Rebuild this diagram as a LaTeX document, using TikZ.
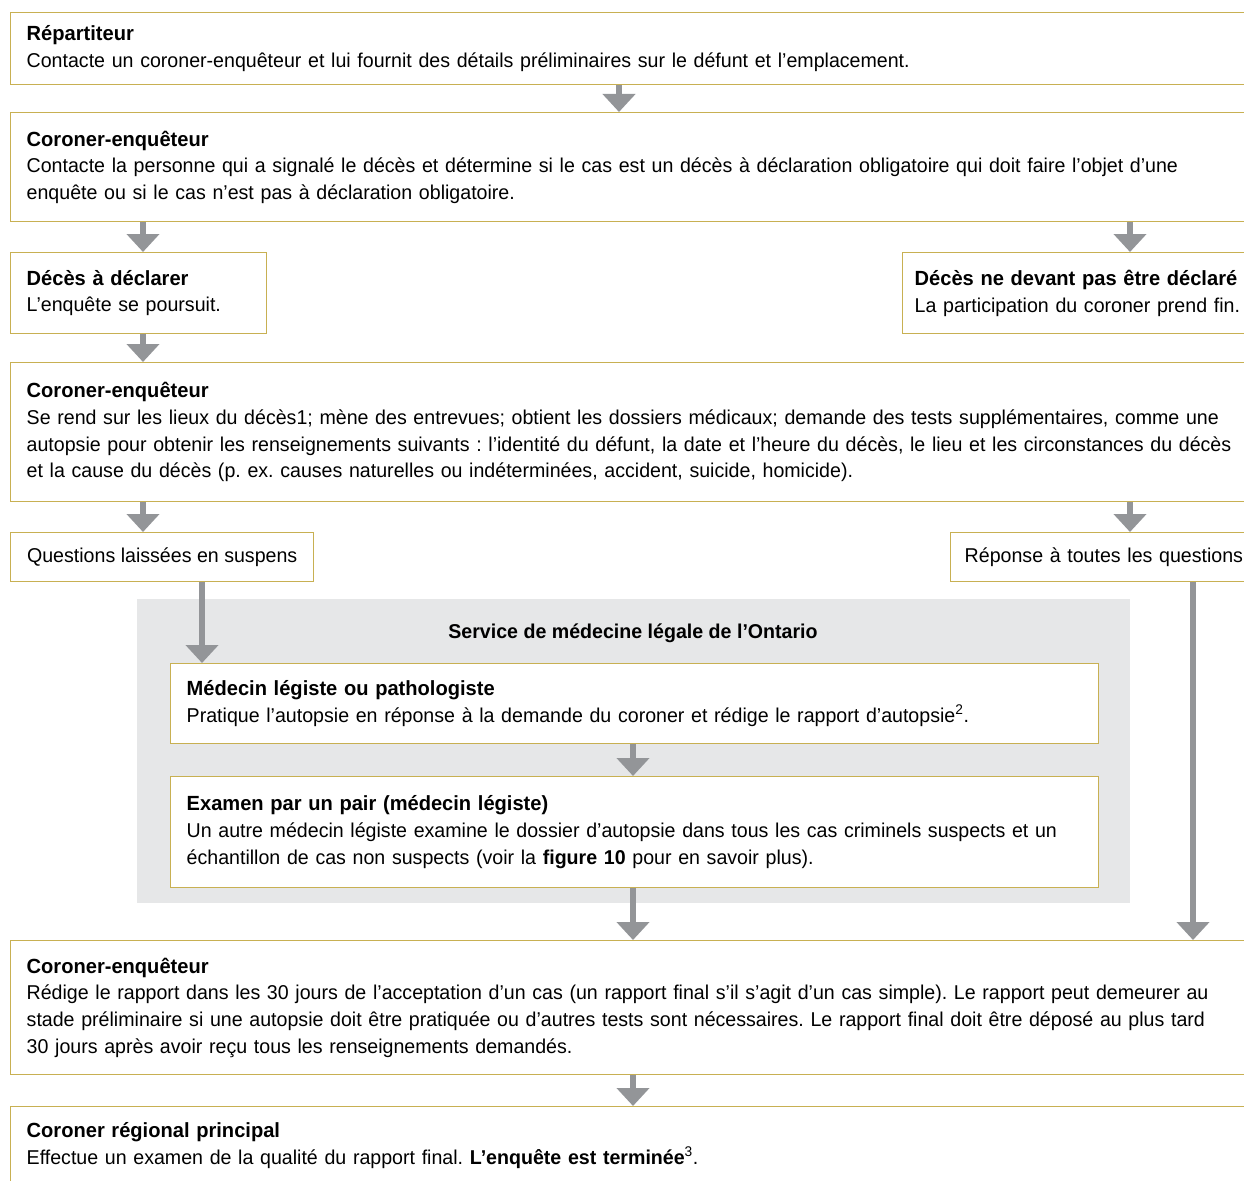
\documentclass[tikz,border=0pt]{standalone}
\usepackage{fontspec}
\setmainfont{Liberation Sans}[FakeStretch=0.98]
\usepackage{xcolor}
\usetikzlibrary{arrows.meta,positioning}

\definecolor{goldline}{RGB}{200,176,82}
\definecolor{panelgrey}{RGB}{230,231,232}
\definecolor{arrowgrey}{RGB}{147,149,152}

\newcommand{\boxhead}[1]{{\bfseries\fontsize{20.5}{27}\selectfont #1}}
\frenchspacing

\begin{document}
\begin{tikzpicture}[x=1pt,y=-1pt,
  stage/.style={draw=goldline,line width=1.4pt,fill=white,anchor=north west,
    align=left,inner xsep=16pt,inner ysep=0pt,
    font=\fontsize{20}{26.7}\selectfont},
  flow/.style={arrowgrey,line width=6pt,-{Triangle[width=32pt,length=18pt]}}]
  \useasboundingbox (0,0) rectangle (1244,1180);
  \clip (0,0) rectangle (1244,1180);

  \coordinate (colM) at (619,0);
  \coordinate (colC) at (633,0);
  \coordinate (colL) at (143,0);
  \coordinate (colR) at (1130,0);
  \coordinate (colQ) at (202,0);
  \coordinate (colA) at (1193,0);

  \node[stage,text width=1230pt,minimum height=72pt] (rep) at (10,12)
    {\boxhead{Répartiteur}\\
     Contacte un coroner-enquêteur et lui fournit des détails préliminaires sur le défunt et l’emplacement.};
  \node[stage,text width=1230pt,minimum height=109pt] (cor1) at (10,112)
    {\boxhead{Coroner-enquêteur}\\
     Contacte la personne qui a signalé le décès et détermine si le cas est un décès à déclaration obligatoire qui doit faire l’objet d’une\\
     enquête ou si le cas n’est pas à déclaration obligatoire.};
  \node[stage,text width=224pt,minimum height=81pt] (decl) at (10,252)
    {\boxhead{Décès à déclarer}\\
     L’enquête se poursuit.};
  \node[stage,inner xsep=12pt,text width=360pt,minimum height=81pt] (nondecl) at (902,252)
    {\boxhead{Décès ne devant pas être déclaré}\\
     La participation du coroner prend fin.};
  \node[stage,text width=1230pt,minimum height=139pt] (cor2) at (10,362)
    {\boxhead{Coroner-enquêteur}\\
     Se rend sur les lieux du décès1; mène des entrevues; obtient les dossiers médicaux; demande des tests supplémentaires, comme une\\
     autopsie pour obtenir les renseignements suivants : l’identité du défunt, la date et l’heure du décès, le lieu et les circonstances du décès\\
     et la cause du décès (p. ex. causes naturelles ou indéterminées, accident, suicide, homicide).};
  \node[stage,inner xsep=0pt,minimum width=303pt,minimum height=49pt] (quest) at (10,532)
    {Questions laissées en suspens};
  \node[stage,inner xsep=14pt,text width=320pt,minimum height=49pt] (repq) at (950,532)
    {Réponse à toutes les questions};

  \fill[panelgrey] (137,599) rectangle (1130,903);
  \node[font=\bfseries\fontsize{20}{26}\selectfont] (panel) at (633,633)
    {Service de médecine légale de l’Ontario};
  \node[stage,text width=896pt,minimum height=80pt] (med) at (170,663)
    {\boxhead{Médecin légiste ou pathologiste}\\
     Pratique l’autopsie en réponse à la demande du coroner et rédige le rapport d’autopsie\textsuperscript{2}.};
  \node[stage,text width=896pt,minimum height=111pt] (exam) at (170,776)
    {\boxhead{Examen par un pair (médecin légiste)}\\
     Un autre médecin légiste examine le dossier d’autopsie dans tous les cas criminels suspects et un\\
     échantillon de cas non suspects (voir la \textbf{figure 10} pour en savoir plus).};

  \node[stage,text width=1230pt,minimum height=134pt] (cor3) at (10,940)
    {\boxhead{Coroner-enquêteur}\\
     Rédige le rapport dans les 30 jours de l’acceptation d’un cas (un rapport final s’il s’agit d’un cas simple). Le rapport peut demeurer au\\
     stade préliminaire si une autopsie doit être pratiquée ou d’autres tests sont nécessaires. Le rapport final doit être déposé au plus tard\\
     30 jours après avoir reçu tous les renseignements demandés.};
  \node[stage,text width=1230pt,minimum height=100pt] (reg) at (10,1106)
    {\boxhead{Coroner régional principal}\\
     Effectue un examen de la qualité du rapport final. \textbf{L’enquête est terminée}\textsuperscript{3}.\\
     \mbox{}};

  \draw[flow] (rep.south -| colM) -- (cor1.north -| colM);
  \draw[flow] (cor1.south -| colL) -- (decl.north -| colL);
  \draw[flow] (cor1.south -| colR) -- (nondecl.north -| colR);
  \draw[flow] (decl.south -| colL) -- (cor2.north -| colL);
  \draw[flow] (cor2.south -| colL) -- (quest.north -| colL);
  \draw[flow] (cor2.south -| colR) -- (repq.north -| colR);
  \draw[flow] (quest.south -| colQ) -- (med.north -| colQ);
  \draw[flow] (med.south -| colC) -- (exam.north -| colC);
  \draw[flow] (exam.south -| colC) -- (cor3.north -| colC);
  \draw[flow] (repq.south -| colA) -- (cor3.north -| colA);
  \draw[flow] (cor3.south -| colC) -- (reg.north -| colC);
\end{tikzpicture}
\end{document}
